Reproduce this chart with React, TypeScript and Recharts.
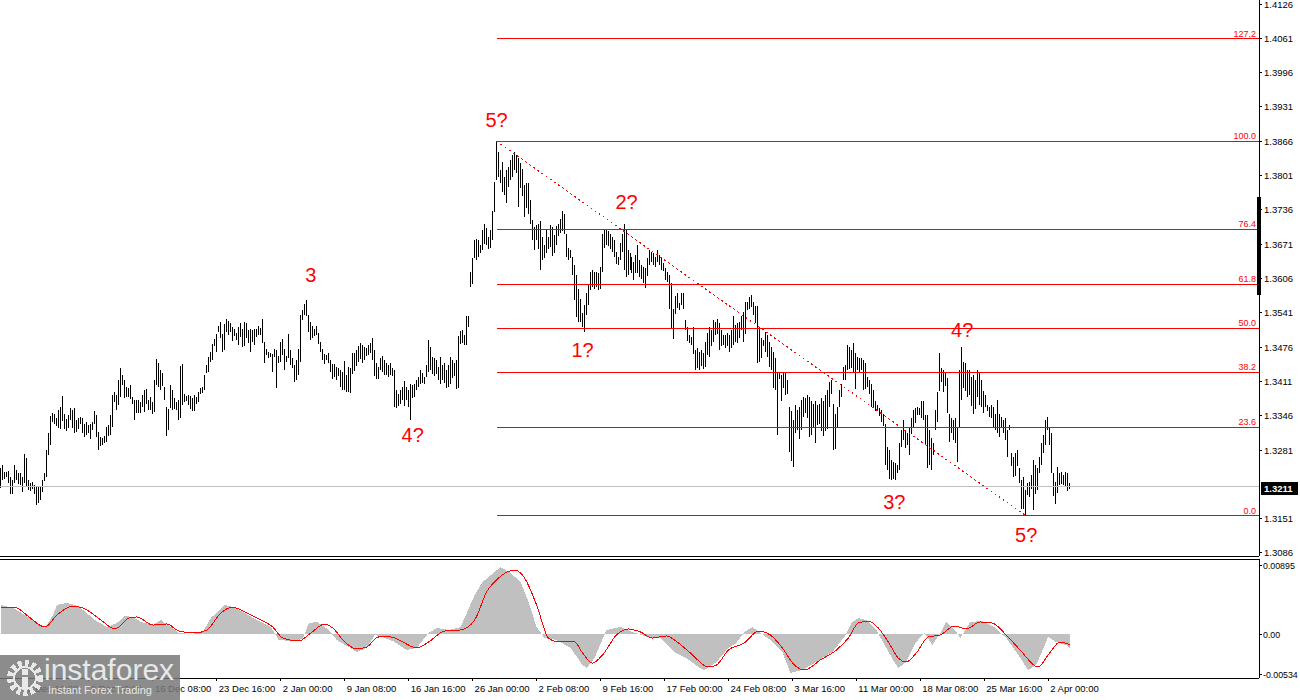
import React from 'react'
import { ComposedChart, Bar, Area, Line, XAxis, YAxis, ReferenceLine, ReferenceDot } from 'recharts'

const FONT = "'Liberation Sans', Arial, sans-serif"
const RED = '#ff0000'
const BASE = 1.3 // bar values are pips above 1.3000

// 4H bars, oldest first (high / low in pips)
const highPips = [
  246,252,240,240,241,230,225,252,243,238,237,230,273,265,225,218,221,215,211,210,211,224,237,281,313,345,352,350,341,357,
  362,383,349,339,347,360,357,360,338,341,344,342,331,335,328,331,335,355,347,316,306,303,308,325,328,347,385,391,385,414,
  436,423,414,401,398,405,382,376,376,376,372,385,395,397,376,382,372,414,453,446,432,426,401,363,358,404,395,379,372,376,
  440,444,388,383,385,383,379,385,382,391,398,400,423,442,458,467,482,491,501,516,524,501,520,529,526,522,515,510,502,515,
  522,511,524,521,508,510,508,510,511,516,513,529,486,473,467,465,463,473,470,459,486,491,473,459,501,470,455,442,452,472,
  537,546,558,565,537,524,516,510,516,503,486,472,463,461,465,452,444,444,439,436,433,429,450,423,439,436,465,465,470,478,
  483,480,477,474,480,483,493,470,445,439,455,459,452,445,442,445,436,433,395,388,395,401,411,401,395,407,404,407,414,420,
  433,426,420,442,489,477,458,455,452,439,458,442,445,433,442,458,452,445,452,497,507,508,499,534,535,619,644,679,680,679,
  669,698,710,701,685,698,733,789,867,846,811,827,799,811,818,830,840,846,840,834,824,813,783,786,787,755,717,704,707,710,
  714,685,669,698,685,707,704,688,705,710,718,733,729,691,663,660,647,632,613,587,568,540,556,578,594,619,622,619,619,616,
  628,691,698,698,695,691,685,679,657,647,673,691,710,698,660,654,647,638,650,669,641,632,628,625,644,660,657,654,647,660,
  650,644,635,625,619,613,597,549,572,578,559,578,579,527,515,499,496,515,470,474,467,470,464,486,502,515,508,527,524,530,
  521,508,499,499,502,499,508,534,518,521,524,534,543,562,562,571,575,562,553,553,515,493,489,505,499,486,477,467,455,429,
  426,423,426,426,414,363,354,338,366,357,363,376,382,379,385,382,373,369,373,366,369,379,373,385,395,410,414,369,350,363,
  395,407,439,442,480,477,470,483,464,458,455,455,451,445,420,414,407,395,373,366,360,357,350,331,287,281,262,259,256,253,
  294,319,338,319,313,325,341,357,360,363,360,373,374,347,347,319,303,294,357,391,464,436,433,426,417,350,341,338,341,325,
  433,477,448,445,433,433,420,423,414,433,426,414,392,385,366,363,366,363,350,376,350,344,338,341,319,328,275,268,275,281,
  246,224,230,205,218,221,234,262,253,246,268,294,309,338,344,322,313,237,221,249,237,240,234,240,237,219,
]
const lowPips = [
  208,224,227,230,218,198,198,218,225,217,215,202,218,211,206,202,208,198,177,180,186,202,221,230,271,290,335,331,325,322,
  320,336,320,316,322,338,322,313,316,320,331,313,306,311,313,303,320,331,306,282,289,290,294,297,307,309,324,372,357,366,
  382,404,379,382,381,379,369,338,352,352,352,363,354,369,357,357,350,354,404,400,395,401,376,309,319,360,357,358,357,338,
  341,366,373,374,366,358,354,354,369,373,387,388,395,426,429,448,452,477,467,505,493,467,470,505,499,505,489,496,489,480,
  496,477,478,493,483,467,486,480,496,499,499,484,446,461,455,458,429,458,398,445,448,461,433,448,455,442,436,410,415,423,
  448,527,537,534,505,489,493,496,499,483,467,452,445,452,447,429,415,419,415,421,401,395,395,390,392,388,425,430,440,448,
  452,445,452,458,461,464,452,420,414,417,433,429,423,423,420,423,420,363,360,366,369,376,363,376,363,338,379,382,395,401,
  407,407,407,420,429,433,426,420,426,414,407,414,407,398,401,407,417,420,398,398,483,483,480,480,515,590,594,644,641,647,
  654,660,673,669,663,663,679,733,793,799,786,770,764,748,780,793,799,811,805,742,777,761,723,739,729,710,679,660,679,663,
  622,641,644,654,663,666,650,654,669,688,692,695,692,647,641,644,613,565,534,524,524,513,505,537,556,584,590,587,590,584,
  587,619,663,669,666,663,657,647,635,632,641,657,622,609,613,622,616,603,616,616,609,606,597,587,609,632,638,632,628,638,
  632,622,619,603,600,549,511,493,537,549,546,556,549,508,489,483,480,464,433,436,433,439,433,439,461,458,477,486,499,502,
  470,477,480,474,477,467,474,480,486,483,493,508,486,502,546,549,553,537,521,445,448,455,477,467,458,439,433,398,395,309,
  414,373,398,385,388,278,259,249,313,319,303,319,344,350,341,306,309,325,294,328,331,316,306,316,322,363,388,281,284,325,
  363,382,414,414,433,436,436,429,395,433,429,433,395,395,401,388,363,360,354,357,344,335,328,253,243,227,224,227,224,237,
  243,287,300,284,290,272,310,325,332,347,347,341,338,290,246,253,243,272,319,335,392,410,392,401,350,297,313,300,294,259,
  325,376,398,392,382,385,366,350,360,382,366,363,351,363,354,344,341,325,319,313,306,325,313,300,268,319,250,231,231,250,
  218,170,170,158,196,193,208,167,199,205,237,253,275,290,319,290,237,193,180,199,215,218,215,212,202,208,
]

// 1.3216 sits under the current-price box, so it is not listed
const priceTicks = [1.4126, 1.4061, 1.3996, 1.3931, 1.3866, 1.3801, 1.3736, 1.3671, 1.3606, 1.3541, 1.3476, 1.3411, 1.3346, 1.3281, 1.3151, 1.3086]
const fibNames = ['127,2', '100.0', '76.4', '61.8', '50.0', '38.2', '23.6', '0.0']
const fibPrices = [1.4060, 1.3866, 1.3699, 1.3595, 1.3512, 1.3428, 1.3324, 1.3156]
const fibStartBar = 248
const trendBars = [248, 513]
const trendPrices = [1.3866, 1.3156]
const lastPrice = 1.3211
const markerPrices = [1.3760, 1.3575]

const waveTexts = ['5?', '3', '4?', '2?', '1?', '3?', '4?', '5?']
const waveBars = [248, 155, 206, 313, 291, 447, 481, 513]
const wavePrices = [1.3906, 1.3613, 1.3310, 1.3751, 1.3471, 1.3183, 1.3508, 1.3120]

// MACD readings: [bar, value in 1e-5]
const macdHist: [number, number][] = [
  [0,382],[6,342],[12,250],[18,145],[22,80],[26,250],[28,382],[33,408],[37,382],[41,316],[47,184],[53,92],[58,145],[62,237],
  [66,224],[70,158],[76,118],[80,184],[85,92],[89,13],[95,0],[101,26],[105,210],[112,382],[116,355],[122,276],[128,184],
  [135,92],[139,-79],[145,-92],[151,-66],[154,145],[158,158],[164,53],[168,-79],[174,-171],[178,-237],[183,-184],[187,-13],
  [191,-39],[197,-105],[203,-211],[208,-184],[214,13],[218,79],[224,53],[230,92],[237,513],[241,684],[247,816],[250,882],
  [255,803],[260,684],[264,421],[268,92],[272,-53],[278,-79],[285,-184],[291,-408],[293,-447],[297,-316],[303,53],[310,92],
  [316,26],[324,-45],[330,-53],[337,-237],[343,-316],[349,-434],[352,-474],[358,-368],[364,-184],[368,-118],[372,26],[376,92],
  [378,53],[385,-79],[391,-237],[395,-513],[401,-474],[408,-368],[416,-237],[422,-39],[426,158],[429,210],[433,184],[438,53],
  [443,-184],[447,-368],[449,-447],[453,-368],[458,-105],[462,13],[466,-145],[470,13],[473,158],[478,26],[480,-53],[485,158],
  [491,171],[497,92],[503,-53],[508,-237],[514,-474],[518,-408],[524,-39],[528,-105],[533,-145],[535,-184],
]
const macdSignal: [number, number][] = [
  [0,342],[4,355],[8,342],[14,224],[22,92],[28,250],[36,368],[41,342],[50,184],[57,66],[64,210],[68,224],[76,118],[83,132],
  [89,39],[97,13],[103,53],[110,276],[116,355],[120,316],[128,210],[136,92],[141,-53],[149,-92],[155,13],[162,132],[166,79],
  [172,-105],[178,-197],[183,-171],[189,-39],[195,-39],[201,-105],[208,-184],[214,-105],[222,39],[230,53],[237,184],[243,553],
  [249,737],[257,842],[262,737],[268,382],[274,-53],[279,-105],[287,-105],[291,-250],[296,-382],[301,-276],[308,-13],[314,66],
  [320,26],[326,-53],[333,-26],[339,-118],[345,-250],[354,-434],[358,-408],[364,-211],[372,-118],[379,39],[385,-13],[391,-184],
  [397,-408],[402,-474],[410,-342],[418,-211],[424,-53],[429,145],[434,171],[439,79],[444,-105],[449,-316],[453,-368],[458,-250],
  [464,-39],[470,-13],[477,105],[483,66],[490,158],[496,145],[503,-13],[510,-211],[519,-434],[524,-276],[530,-105],[535,-145],
]
const macdTicks = [895, 0, -534]

const dateTicks = [12, 44, 76, 108, 140, 172, 204, 236, 268, 300, 332, 364, 396, 428, 460, 492, 524]
const dateLabels = ['1 Dec 16:00', '9 Dec 00:00', '16 Dec 08:00', '23 Dec 16:00', '2 Jan 00:00', '9 Jan 08:00', '16 Jan 16:00',
  '26 Jan 00:00', '2 Feb 08:00', '9 Feb 16:00', '17 Feb 00:00', '24 Feb 08:00', '3 Mar 16:00', '11 Mar 00:00', '18 Mar 08:00',
  '25 Mar 16:00', '2 Apr 00:00']

const XMAX = 629.5

const rows = highPips.map((h, i) => ({ i, range: [BASE + lowPips[i] / 10000, BASE + h / 10000] }))
const histMap = new Map(macdHist)
const sigMap = new Map(macdSignal)
const macdRows = highPips.map((_, i) => ({ i, hist: histMap.get(i) ?? null, signal: sigMap.get(i) ?? null }))

function PriceBar(p: any) {
  const cx = Math.round(p.x + p.width / 2 - 0.5)
  const top = Math.min(p.y, p.y + p.height)
  const h = Math.max(1, Math.abs(p.height))
  return <rect x={cx} y={Math.round(top)} width={1} height={Math.round(h)} fill="#000" />
}

function PriceTick({ x, y, payload }: any) {
  return <text x={x} y={y} dy={3.5} fontSize={9.5} fontFamily={FONT} fill="#000">{payload.value.toFixed(4)}</text>
}

function MacdTick({ x, y, payload }: any) {
  const v = payload.value
  return <text x={x - 1} y={y} dy={3.5} fontSize={8.8} fontFamily={FONT} fill="#000">{v === 0 ? '0.00' : (v / 100000).toFixed(5)}</text>
}

function DateTick({ x, y, payload }: any) {
  const k = dateTicks.indexOf(payload.value)
  return <text x={x + 2} y={y + 9} fontSize={9.5} fontFamily={FONT} fill="#000">{dateLabels[k]}</text>
}

function FibLabel({ viewBox, text }: any) {
  return <text x={viewBox.x + viewBox.width - 3} y={viewBox.y - 2} textAnchor="end" fontSize={9} fontFamily={FONT} fill={RED}>{text}</text>
}

function WaveLabel({ viewBox, text }: any) {
  return <text x={viewBox.x + viewBox.width / 2} y={viewBox.y + viewBox.height / 2 + 7} textAnchor="middle" fontSize={20} fontFamily={FONT} fill={RED}>{text}</text>
}

function PriceBox({ viewBox }: any) {
  const x = viewBox.x + viewBox.width + 2
  return (
    <g>
      <rect x={x} y={viewBox.y - 5} width={37} height={13} fill="#000" />
      <text x={x + 3} y={viewBox.y + 5} fontSize={9.5} fontWeight="bold" fontFamily={FONT} fill="#fff">{lastPrice.toFixed(4)}</text>
    </g>
  )
}

export default function App() {
  return (
    <div style={{ position: 'absolute', left: 0, top: 0, width: 1300, height: 700, background: '#fff', overflow: 'hidden', shapeRendering: 'crispEdges' }}>
      <div style={{ position: 'absolute', left: 0, top: 0 }}>
        <ComposedChart width={1300} height={557} data={rows} margin={{ top: 0, right: 0, bottom: 0, left: 0 }}>
          <XAxis dataKey="i" type="number" domain={[-0.5, XMAX]} allowDataOverflow height={1} tick={false} tickLine={false} axisLine={{ stroke: '#000' }} />
          <YAxis orientation="right" width={41} type="number" domain={[1.30802, 1.41336]} allowDataOverflow ticks={priceTicks} interval={0}
            tickSize={3} tick={<PriceTick />} axisLine={{ stroke: '#000' }} tickLine={{ stroke: '#000' }} />
          <ReferenceLine y={lastPrice} stroke="#c0c0c0" label={<PriceBox />} />
          <Bar dataKey="range" barSize={1} shape={PriceBar} isAnimationActive={false} />
          {fibPrices.map((p, k) => (
            <ReferenceLine key={'f' + k} segment={[{ x: fibStartBar, y: p }, { x: XMAX, y: p }]} stroke={RED} label={<FibLabel text={fibNames[k]} />} />
          ))}
          <ReferenceLine segment={[{ x: trendBars[0], y: trendPrices[0] }, { x: trendBars[1], y: trendPrices[1] }]} stroke={RED} strokeDasharray="2 3" />
          <ReferenceLine segment={[{ x: XMAX, y: markerPrices[0] }, { x: XMAX, y: markerPrices[1] }]} stroke="#000" strokeWidth={4} />
          {waveTexts.map((t, k) => (
            <ReferenceDot key={'w' + k} x={waveBars[k]} y={wavePrices[k]} r={0} fill="none" stroke="none" label={<WaveLabel text={t} />} />
          ))}
        </ComposedChart>
      </div>
      <div style={{ position: 'absolute', left: 0, top: 558 }}>
        <ComposedChart width={1300} height={136} data={macdRows} margin={{ top: 0, right: 0, bottom: 0, left: 0 }}>
          <XAxis xAxisId="top" orientation="top" dataKey="i" type="number" domain={[-0.5, XMAX]} allowDataOverflow height={1} tick={false} tickLine={false} axisLine={{ stroke: '#000' }} />
          <XAxis dataKey="i" type="number" domain={[-0.5, XMAX]} allowDataOverflow ticks={dateTicks} interval={0} height={16} tickSize={3}
            tick={<DateTick />} axisLine={{ stroke: '#000' }} tickLine={{ stroke: '#000' }} />
          <YAxis orientation="right" width={41} type="number" domain={[-579, 987]} allowDataOverflow ticks={macdTicks} interval={0}
            tickSize={3} tick={<MacdTick />} axisLine={{ stroke: '#000' }} tickLine={{ stroke: '#000' }} />
          <Area dataKey="hist" type="linear" connectNulls baseValue={0} fill="#c0c0c0" fillOpacity={1} stroke="none" dot={false} activeDot={false} isAnimationActive={false} />
          <Line dataKey="signal" type="monotone" connectNulls stroke={RED} strokeWidth={1} dot={false} activeDot={false} isAnimationActive={false} />
        </ComposedChart>
      </div>
      <div style={{ position: 'absolute', left: 0, top: 655, width: 180, height: 45, background: 'rgba(120,120,120,0.85)', color: '#e8e8e8', fontFamily: FONT }}>
        <svg width={40} height={42} style={{ position: 'absolute', left: 5, top: 2 }}>
          <circle cx={20} cy={21} r={15} fill="none" stroke="#e8e8e8" strokeWidth={6} strokeDasharray="4 3" />
          <circle cx={20} cy={21} r={11} fill="none" stroke="#e8e8e8" strokeWidth={2} />
          <circle cx={20} cy={15} r={3.5} fill="#e8e8e8" />
          <rect x={17} y={20} width={6} height={13} fill="#e8e8e8" />
        </svg>
        <div style={{ position: 'absolute', left: 44, top: -1, fontSize: 30, lineHeight: '32px' }}>instaforex</div>
        <div style={{ position: 'absolute', left: 48, top: 29, fontSize: 11 }}>Instant Forex Trading</div>
      </div>
    </div>
  )
}
